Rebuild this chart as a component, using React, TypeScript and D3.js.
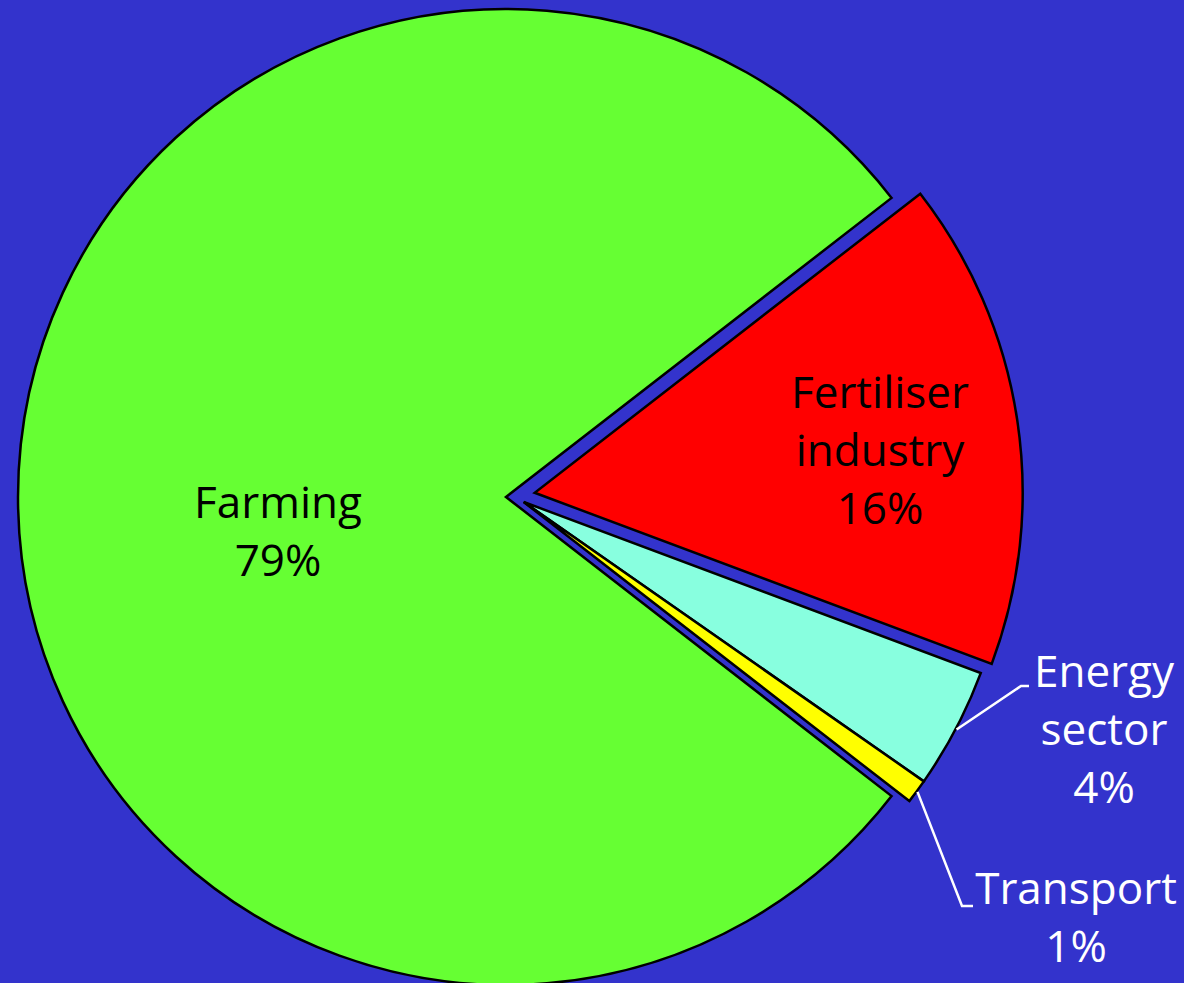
import React from "react";
import * as d3 from "d3";

const categories = ["Fertiliser industry", "Energy sector", "Transport", "Farming"];
const values = [16.2, 4.0, 0.8, 79.0];
const labelLines = [
  ["Fertiliser", "industry", "16%"],
  ["Energy", "sector", "4%"],
  ["Transport", "1%"],
  ["Farming", "79%"],
];
const colors = ["#FF0000", "#88FFDF", "#FFFF00", "#66FF33"];
// explosion: distance (px) and direction (deg, clockwise from 12 o'clock)
const explode = [
  { d: 29, a: 81.6 },
  { d: 18.4, a: 105.8 },
  { d: 18.4, a: 105.8 },
  { d: 0, a: 0 },
];

const W = 1184;
const H = 983;
const CX = 506;
const CY = 497;
const R = 488;
const START_DEG = 52.2;
const FONT = "'Open Sans', 'Noto Sans', sans-serif";
const FS = 44;
const LH = 58;

// label layout: inside labels positioned at (x, first baseline); outside with leader
const labelLayout = [
  { x: 880, y: 408, color: "#000", leader: null as null | { elbow: [number, number]; end: [number, number] } },
  { x: 1104, y: 687, color: "#fff", leader: { elbow: [1021, 686], end: [1029, 686] } },
  { x: 1076, y: 904, color: "#fff", leader: { elbow: [962, 906], end: [973, 906] } },
  { x: 278, y: 518, color: "#000", leader: null },
];

export default function App() {
  const toRad = (deg: number) => (deg * Math.PI) / 180;
  const pie = d3
    .pie<number>()
    .sort(null)
    .value((d) => d)
    .startAngle(toRad(START_DEG))
    .endAngle(toRad(START_DEG + 360));
  const arcs = pie(values);
  const arcGen = d3.arc<d3.PieArcDatum<number>>().innerRadius(0).outerRadius(R);

  const offsets = explode.map((e) => [
    e.d * Math.sin(toRad(e.a)),
    -e.d * Math.cos(toRad(e.a)),
  ]);

  return (
    <svg
      width={W}
      height={H}
      style={{ position: "absolute", left: 0, top: 0, display: "block" }}
    >
      <rect x={0} y={0} width={W} height={H} fill="#3333CC" />
      {arcs.map((a, i) => (
        <path
          key={categories[i]}
          d={arcGen(a) || ""}
          transform={`translate(${CX + offsets[i][0]},${CY + offsets[i][1]})`}
          fill={colors[i]}
          stroke="#000"
          strokeWidth={2.5}
          strokeLinejoin="miter"
        />
      ))}
      {arcs.map((a, i) => {
        const lay = labelLayout[i];
        if (!lay.leader) return null;
        const mid = (a.startAngle + a.endAngle) / 2;
        const sx = CX + offsets[i][0] + (R + 1) * Math.sin(mid);
        const sy = CY + offsets[i][1] - (R + 1) * Math.cos(mid);
        const line = d3.line()([
          [sx, sy],
          lay.leader.elbow,
          lay.leader.end,
        ]);
        return (
          <path
            key={"leader" + i}
            d={line || ""}
            fill="none"
            stroke="#fff"
            strokeWidth={2.5}
          />
        );
      })}
      {labelLines.map((lines, i) => {
        const lay = labelLayout[i];
        return (
          <text
            key={"label" + i}
            x={lay.x}
            y={lay.y}
            fill={lay.color}
            fontFamily={FONT}
            fontSize={FS}
            textAnchor="middle"
          >
            {lines.map((t, j) => (
              <tspan key={j} x={lay.x} y={lay.y + j * LH}>
                {t}
              </tspan>
            ))}
          </text>
        );
      })}
    </svg>
  );
}
